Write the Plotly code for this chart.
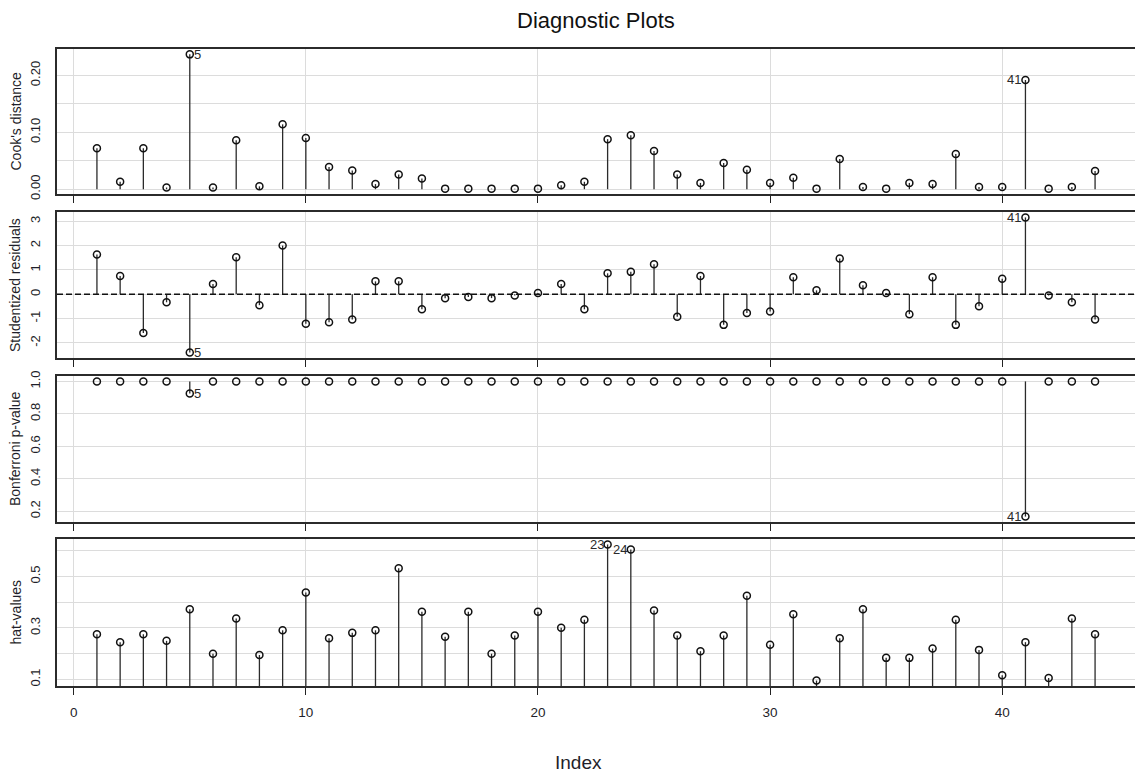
import plotly.graph_objects as go

index = list(range(1, 45))

cooks_d = [0.072, 0.013, 0.072, 0.003, 0.237, 0.003, 0.086, 0.005, 0.114, 0.090,
           0.039, 0.033, 0.009, 0.026, 0.019, 0.001, 0.001, 0.001, 0.001, 0.001,
           0.007, 0.013, 0.088, 0.095, 0.067, 0.026, 0.011, 0.046, 0.034, 0.011,
           0.020, 0.001, 0.053, 0.004, 0.001, 0.011, 0.009, 0.062, 0.004, 0.004,
           0.192, 0.001, 0.004, 0.032]

stud_res = [1.63, 0.75, -1.59, -0.33, -2.40, 0.42, 1.52, -0.45, 2.00, -1.21,
            -1.15, -1.04, 0.53, 0.53, -0.62, -0.16, -0.11, -0.16, -0.05, 0.05,
            0.42, -0.62, 0.86, 0.92, 1.23, -0.93, 0.75, -1.26, -0.77, -0.71,
            0.70, 0.16, 1.47, 0.37, 0.05, -0.82, 0.70, -1.26, -0.49, 0.64,
            3.16, -0.05, -0.33, -1.04]

bonf_p = [1.0, 1.0, 1.0, 1.0, 0.926, 1.0, 1.0, 1.0, 1.0, 1.0,
          1.0, 1.0, 1.0, 1.0, 1.0, 1.0, 1.0, 1.0, 1.0, 1.0,
          1.0, 1.0, 1.0, 1.0, 1.0, 1.0, 1.0, 1.0, 1.0, 1.0,
          1.0, 1.0, 1.0, 1.0, 1.0, 1.0, 1.0, 1.0, 1.0, 1.0,
          0.167, 1.0, 1.0, 1.0]

hat_vals = [0.276, 0.245, 0.276, 0.250, 0.373, 0.200, 0.337, 0.195, 0.291, 0.438,
            0.260, 0.281, 0.291, 0.532, 0.363, 0.266, 0.363, 0.200, 0.271, 0.363,
            0.301, 0.332, 0.624, 0.604, 0.368, 0.271, 0.210, 0.271, 0.425, 0.235,
            0.353, 0.096, 0.260, 0.373, 0.184, 0.184, 0.220, 0.332, 0.215, 0.117,
            0.245, 0.106, 0.337, 0.276]

x_ticks = [0, 10, 20, 30, 40]

panels = [
    dict(name="Cook's distance", vals=cooks_d, base=0.0,
         tickvals=[0.0, 0.05, 0.10, 0.15, 0.20], ticktext=["0.00", "", "0.10", "", "0.20"],
         labels=[(5, "right"), (41, "left")]),
    dict(name="Studentized residuals", vals=stud_res, base=0.0,
         tickvals=[-2, -1, 0, 1, 2, 3], ticktext=["-2", "-1", "0", "1", "2", "3"],
         labels=[(5, "right"), (41, "left")]),
    dict(name="Bonferroni p-value", vals=bonf_p, base=1.0,
         tickvals=[0.2, 0.4, 0.6, 0.8, 1.0], ticktext=["0.2", "0.4", "0.6", "0.8", "1.0"],
         labels=[(5, "right"), (41, "left")]),
    dict(name="hat-values", vals=hat_vals, base=0.0,
         tickvals=[0.1, 0.2, 0.3, 0.4, 0.5, 0.6], ticktext=["0.1", "", "0.3", "", "0.5", ""],
         labels=[(23, "left"), (24, "left")]),
]

W, H = 1135, 774
ML, MR, MT, MB = 57, 0, 49, 88
plot_h = H - MT - MB
# panel pixel extents (top, bottom)
pix = [(49, 194), (212, 358), (376, 522), (539, 686)]

def pad(lo, hi, f=0.04):
    d = hi - lo
    return [lo - f * d, hi + f * d]

FONT = "Liberation Sans, Arial, sans-serif"
TXT = "#1f1f2a"
GRID = "#dcdcdc"

fig = go.Figure()
layout = dict(
    width=W, height=H,
    margin=dict(l=ML, r=MR, t=MT, b=MB),
    plot_bgcolor="white", paper_bgcolor="white",
    showlegend=False,
    font=dict(family=FONT, size=13, color=TXT),
)
annotations = []
shapes = []

xr = pad(min(index), max(index))

for k, p in enumerate(panels):
    n = k + 1
    xa = "x" if n == 1 else f"x{n}"
    ya = "y" if n == 1 else f"y{n}"
    top, bot = pix[k]
    dom = [(H - MB - bot) / plot_h, (H - MB - top) / plot_h]
    vals = p["vals"]
    # stems
    sx, sy = [], []
    for i, v in zip(index, vals):
        sx += [i, i, None]
        sy += [p["base"], v, None]
    fig.add_trace(go.Scatter(x=sx, y=sy, mode="lines", xaxis=xa, yaxis=ya,
                             line=dict(color="#2b2b2b", width=1.3), hoverinfo="skip"))
    fig.add_trace(go.Scatter(x=index, y=vals, mode="markers", xaxis=xa, yaxis=ya,
                             marker=dict(symbol="circle-open", size=7, color="#111111",
                                         line=dict(width=1.5, color="#111111"))))
    yr = pad(min(vals), max(vals))
    last = (n == 4)
    layout["xaxis" if n == 1 else f"xaxis{n}"] = dict(
        domain=[0, 1], anchor=ya, range=xr,
        tickvals=x_ticks, ticktext=[str(t) for t in x_ticks],
        showticklabels=last, ticks="outside", ticklen=7, tickwidth=1.2, tickcolor="#222",
        ticklabelstandoff=6,
        showgrid=True, gridcolor=GRID, gridwidth=1.4,
        showline=True, linecolor="#2b2b2b", linewidth=1.5, mirror=True,
        zeroline=False, tickfont=dict(size=13.5, color=TXT),
    )
    layout["yaxis" if n == 1 else f"yaxis{n}"] = dict(
        domain=dom, anchor=xa, range=yr,
        tickvals=p["tickvals"], ticktext=p["ticktext"], tickangle=-90,
        ticks="", ticklabelstandoff=10,
        showgrid=True, gridcolor=GRID, gridwidth=1.4,
        showline=True, linecolor="#2b2b2b", linewidth=1.5, mirror=False,
        zeroline=False, tickfont=dict(size=13, color=TXT),
    )
    # y title
    annotations.append(dict(text=p["name"], xref="paper", yref="paper",
                            x=0, xshift=-42, y=(dom[0] + dom[1]) / 2,
                            xanchor="center", yanchor="middle", textangle=-90,
                            showarrow=False, font=dict(size=14, color=TXT)))
    # point labels
    for (i, side) in p["labels"]:
        v = vals[i - 1]
        annotations.append(dict(text=str(i), xref=xa, yref=ya, x=i, y=v,
                                xanchor="left" if side == "right" else "right",
                                yanchor="middle",
                                xshift=2 if side == "right" else -2,
                                showarrow=False, font=dict(size=13, color="#2a2a2a")))

# dashed zero line in residual panel
shapes.append(dict(type="line", xref="x2 domain", yref="y2", x0=0, x1=1, y0=0, y1=0,
                   line=dict(color="#111111", width=1.6, dash="6px,3px")))

annotations.append(dict(text="Diagnostic Plots", xref="paper", yref="paper",
                        x=0.5, y=1, yshift=29, xanchor="center", yanchor="middle",
                        showarrow=False, font=dict(size=22, color="#111111")))
annotations.append(dict(text="Index", xref="paper", yref="paper",
                        x=(578 - ML) / (W - ML - MR), y=0, yshift=-76,
                        xanchor="center", yanchor="middle",
                        showarrow=False, font=dict(size=19, color=TXT)))

layout["annotations"] = annotations
layout["shapes"] = shapes
fig.update_layout(**layout)
fig.write_html("out.html")
